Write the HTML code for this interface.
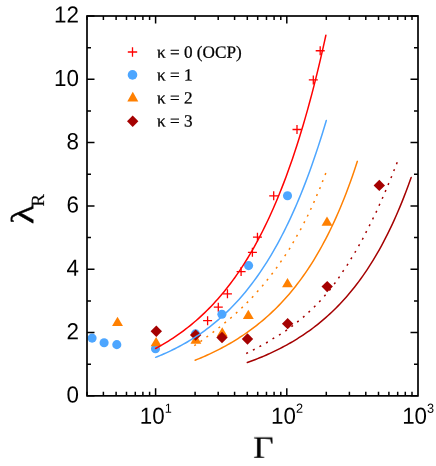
<!DOCTYPE html><html><head><meta charset="utf-8"><title>chart</title><style>html,body{margin:0;padding:0;background:#fff}svg{display:block}text{fill:#000;text-rendering:geometricPrecision}.s{font-family:"Liberation Sans",sans-serif}.r{font-family:"Liberation Serif",serif}</style></head><body>
<svg width="436" height="466" viewBox="0 0 436 466">
<rect width="436" height="466" fill="#fff"/>
<g opacity="0.999">
<g>
<path d="M203.10,320.70H212.10M207.60,316.20V325.20" stroke="#ff0000" stroke-width="1.3" fill="none"/>
<path d="M213.80,307.20H222.80M218.30,302.70V311.70" stroke="#ff0000" stroke-width="1.3" fill="none"/>
<path d="M222.95,293.80H231.95M227.45,289.30V298.30" stroke="#ff0000" stroke-width="1.3" fill="none"/>
<path d="M236.60,271.60H245.60M241.10,267.10V276.10" stroke="#ff0000" stroke-width="1.3" fill="none"/>
<path d="M247.90,252.30H256.90M252.40,247.80V256.80" stroke="#ff0000" stroke-width="1.3" fill="none"/>
<path d="M252.95,237.20H261.95M257.45,232.70V241.70" stroke="#ff0000" stroke-width="1.3" fill="none"/>
<path d="M269.20,195.80H278.20M273.70,191.30V200.30" stroke="#ff0000" stroke-width="1.3" fill="none"/>
<path d="M292.50,129.50H301.50M297.00,125.00V134.00" stroke="#ff0000" stroke-width="1.3" fill="none"/>
<path d="M308.80,79.90H317.80M313.30,75.40V84.40" stroke="#ff0000" stroke-width="1.3" fill="none"/>
<path d="M315.70,50.75H324.70M320.20,46.25V55.25" stroke="#ff0000" stroke-width="1.3" fill="none"/>
<circle cx="92.10" cy="338.10" r="4.55" fill="#4da6ff"/>
<circle cx="104.10" cy="342.70" r="4.55" fill="#4da6ff"/>
<circle cx="116.80" cy="344.65" r="4.55" fill="#4da6ff"/>
<circle cx="155.50" cy="348.70" r="4.55" fill="#4da6ff"/>
<circle cx="195.50" cy="333.85" r="4.55" fill="#4da6ff"/>
<circle cx="221.90" cy="314.20" r="4.55" fill="#4da6ff"/>
<circle cx="248.60" cy="265.60" r="4.55" fill="#4da6ff"/>
<circle cx="287.50" cy="195.70" r="4.55" fill="#4da6ff"/>
<path d="M112.05,326.05L122.95,326.05L117.50,316.75Z" fill="#ff8000"/>
<path d="M150.65,346.35L161.55,346.35L156.10,337.05Z" fill="#ff8000"/>
<path d="M190.45,343.65L201.35,343.65L195.90,334.35Z" fill="#ff8000"/>
<path d="M216.80,336.55L227.70,336.55L222.25,327.25Z" fill="#ff8000"/>
<path d="M242.85,318.95L253.75,318.95L248.30,309.65Z" fill="#ff8000"/>
<path d="M282.05,287.35L292.95,287.35L287.50,278.05Z" fill="#ff8000"/>
<path d="M321.55,225.85L332.45,225.85L327.00,216.55Z" fill="#ff8000"/>
<path d="M150.60,331.20L156.30,325.50L162.00,331.20L156.30,336.90Z" fill="#a50000"/>
<path d="M189.95,335.10L195.65,329.40L201.35,335.10L195.65,340.80Z" fill="#a50000"/>
<path d="M216.30,337.50L222.00,331.80L227.70,337.50L222.00,343.20Z" fill="#a50000"/>
<path d="M241.80,339.00L247.50,333.30L253.20,339.00L247.50,344.70Z" fill="#a50000"/>
<path d="M281.95,323.65L287.65,317.95L293.35,323.65L287.65,329.35Z" fill="#a50000"/>
<path d="M321.50,286.60L327.20,280.90L332.90,286.60L327.20,292.30Z" fill="#a50000"/>
<path d="M373.60,185.40L379.30,179.70L385.00,185.40L379.30,191.10Z" fill="#a50000"/>
</g>
<g fill="none" stroke-width="1.5" stroke-linejoin="round" stroke-linecap="round">
<path d="M155.60,348.49 L157.74,347.33 L159.88,346.13 L162.02,344.91 L164.16,343.65 L166.30,342.37 L168.44,341.05 L170.57,339.69 L172.71,338.30 L174.85,336.88 L176.99,335.42 L179.13,333.92 L181.27,332.39 L183.41,330.81 L185.55,329.19 L187.69,327.53 L189.83,325.83 L191.96,324.09 L194.10,322.29 L196.24,320.46 L198.38,318.57 L200.52,316.64 L202.66,314.65 L204.80,312.61 L206.94,310.52 L209.08,308.37 L211.22,306.17 L213.36,303.91 L215.49,301.58 L217.63,299.20 L219.77,296.75 L221.91,294.24 L224.05,291.66 L226.19,289.01 L228.33,286.29 L230.47,283.50 L232.61,280.63 L234.75,277.69 L236.88,274.66 L239.02,271.56 L241.16,268.37 L243.30,265.09 L245.44,261.72 L247.58,258.26 L249.72,254.71 L251.86,251.06 L254.00,247.30 L256.14,243.45 L258.27,239.49 L260.41,235.41 L262.55,231.23 L264.69,226.93 L266.83,222.51 L268.97,217.96 L271.11,213.29 L273.25,208.49 L275.39,203.55 L277.53,198.47 L279.66,193.25 L281.80,187.88 L283.94,182.36 L286.08,176.68 L288.22,170.84 L290.36,164.83 L292.50,158.65 L294.64,152.29 L296.78,145.75 L298.92,139.02 L301.06,132.09 L303.19,124.97 L305.33,117.63 L307.47,110.09 L309.61,102.32 L311.75,94.32 L313.89,86.09 L316.03,77.62 L318.17,68.89 L320.31,59.91 L322.45,50.66 L324.58,41.13 L325.87,35.28" stroke="#ff0000"/>
<path d="M155.60,357.34 L157.74,356.48 L159.88,355.60 L162.02,354.70 L164.16,353.77 L166.30,352.81 L168.44,351.83 L170.57,350.83 L172.71,349.80 L174.85,348.74 L176.99,347.65 L179.13,346.53 L181.27,345.39 L183.41,344.21 L185.55,343.00 L187.69,341.76 L189.83,340.48 L191.96,339.17 L194.10,337.83 L196.24,336.44 L198.38,335.02 L200.52,333.57 L202.66,332.07 L204.80,330.53 L206.94,328.95 L209.08,327.33 L211.22,325.67 L213.36,323.96 L215.49,322.20 L217.63,320.39 L219.77,318.54 L221.91,316.63 L224.05,314.67 L226.19,312.66 L228.33,310.60 L230.47,308.47 L232.61,306.29 L234.75,304.05 L236.88,301.75 L239.02,299.39 L241.16,296.96 L243.30,294.46 L245.44,291.90 L247.58,289.26 L249.72,286.56 L251.86,283.77 L254.00,280.91 L256.14,277.98 L258.27,274.96 L260.41,271.86 L262.55,268.67 L264.69,265.40 L266.83,262.04 L268.97,258.58 L271.11,255.03 L273.25,251.38 L275.39,247.63 L277.53,243.77 L279.66,239.81 L281.80,235.74 L283.94,231.56 L286.08,227.27 L288.22,222.85 L290.36,218.31 L292.50,213.65 L294.64,208.86 L296.78,203.94 L298.92,198.88 L301.06,193.69 L303.19,188.35 L305.33,182.86 L307.47,177.23 L309.61,171.43 L311.75,165.48 L313.89,159.37 L316.03,153.08 L318.17,146.63 L320.31,139.99 L322.45,133.18 L324.58,126.18 L326.30,120.44" stroke="#4da6ff"/>
<path d="M195.10,360.25 L197.14,359.42 L199.18,358.58 L201.23,357.72 L203.27,356.84 L205.31,355.94 L207.36,355.02 L209.40,354.09 L211.45,353.13 L213.49,352.15 L215.53,351.15 L217.58,350.12 L219.62,349.08 L221.66,348.01 L223.71,346.91 L225.75,345.79 L227.80,344.65 L229.84,343.48 L231.88,342.28 L233.93,341.06 L235.97,339.81 L238.01,338.53 L240.06,337.22 L242.10,335.88 L244.14,334.50 L246.19,333.10 L248.23,331.66 L250.28,330.19 L252.32,328.68 L254.36,327.14 L256.41,325.56 L258.45,323.94 L260.49,322.28 L262.54,320.58 L264.58,318.84 L266.63,317.05 L268.67,315.22 L270.71,313.35 L272.76,311.42 L274.80,309.45 L276.84,307.43 L278.89,305.36 L280.93,303.23 L282.97,301.05 L285.02,298.81 L287.06,296.51 L289.11,294.15 L291.15,291.72 L293.19,289.24 L295.24,286.68 L297.28,284.06 L299.32,281.37 L301.37,278.60 L303.41,275.75 L305.46,272.83 L307.50,269.82 L309.54,266.73 L311.59,263.55 L313.63,260.29 L315.67,256.92 L317.72,253.47 L319.76,249.91 L321.80,246.25 L323.85,242.48 L325.89,238.60 L327.94,234.60 L329.98,230.48 L332.02,226.24 L334.07,221.88 L336.11,217.38 L338.15,212.74 L340.20,207.96 L342.24,203.03 L344.29,197.94 L346.33,192.70 L348.37,187.29 L350.42,181.71 L352.46,175.95 L354.50,170.00 L356.55,163.86 L357.36,161.35" stroke="#ff8000"/>
<path d="M247.31,362.55 L249.37,361.80 L251.43,361.04 L253.50,360.26 L255.56,359.46 L257.62,358.65 L259.69,357.82 L261.75,356.97 L263.82,356.09 L265.88,355.20 L267.94,354.29 L270.01,353.36 L272.07,352.41 L274.14,351.43 L276.20,350.43 L278.26,349.41 L280.33,348.36 L282.39,347.29 L284.45,346.19 L286.52,345.07 L288.58,343.92 L290.65,342.74 L292.71,341.54 L294.77,340.30 L296.84,339.04 L298.90,337.74 L300.96,336.42 L303.03,335.06 L305.09,333.66 L307.16,332.23 L309.22,330.77 L311.28,329.27 L313.35,327.73 L315.41,326.16 L317.47,324.54 L319.54,322.88 L321.60,321.18 L323.67,319.44 L325.73,317.65 L327.79,315.81 L329.86,313.93 L331.92,311.99 L333.99,310.01 L336.05,307.97 L338.11,305.88 L340.18,303.73 L342.24,301.53 L344.30,299.27 L346.37,296.94 L348.43,294.55 L350.50,292.10 L352.56,289.58 L354.62,286.99 L356.69,284.32 L358.75,281.59 L360.81,278.77 L362.88,275.88 L364.94,272.90 L367.01,269.84 L369.07,266.69 L371.13,263.45 L373.20,260.12 L375.26,256.69 L377.32,253.16 L379.39,249.53 L381.45,245.79 L383.52,241.94 L385.58,237.97 L387.64,233.89 L389.71,229.68 L391.77,225.35 L393.84,220.88 L395.90,216.28 L397.96,211.53 L400.03,206.64 L402.09,201.60 L404.15,196.39 L406.22,191.03 L408.28,185.50 L410.35,179.79 L411.17,177.45" stroke="#a50000"/>
<path d="M194.24,345.71L195.93,344.65M200.41,341.56L202.08,340.45M206.45,337.15L208.08,336.00M212.57,332.60L214.17,331.40M218.53,328.02L220.10,326.78M224.43,323.18L225.97,321.90M230.22,318.46L231.72,317.14M235.89,313.34L237.35,311.98M241.39,308.25L242.82,306.85M246.73,303.07L248.12,301.63M251.90,297.74L253.25,296.27M257.00,292.12L258.32,290.62M262.08,286.37L263.36,284.84M266.79,280.56L268.04,279.00M271.54,274.50L272.75,272.91M276.06,268.48L277.24,266.86M280.37,262.31L281.51,260.67M284.73,256.07L285.83,254.40M289.00,249.53L290.07,247.84M292.77,243.17L293.80,241.45M296.48,236.64L297.47,234.91M300.26,230.03L301.22,228.27M303.85,223.17L304.77,221.40M307.28,216.53L308.16,214.74M310.48,209.78L311.32,207.97M313.61,202.85L314.42,201.02M316.57,195.98L317.34,194.14M319.61,189.04L320.34,187.18M322.33,182.06L323.03,180.19M325.13,174.96L325.79,173.08" stroke="#ff8000" stroke-width="1.5" stroke-linecap="butt"/>
<path d="M246.21,353.48L248.03,352.66M252.87,350.12L254.67,349.25M259.41,346.66L261.18,345.74M266.05,342.99L267.79,342.01M272.52,338.97L274.23,337.94M278.99,335.14L280.66,334.05M285.33,331.10L286.96,329.95M291.44,326.70L293.04,325.49M297.15,322.13L298.70,320.86M302.97,317.41L304.47,316.08M308.52,312.38L309.97,311.00M313.98,307.21L315.38,305.78M319.20,301.99L320.55,300.51M324.28,296.18L325.58,294.67M329.32,290.41L330.58,288.85M334.18,284.13L335.39,282.54M338.40,278.24L339.57,276.62M342.59,271.87L343.71,270.21M346.90,265.64L347.99,263.96M350.83,259.21L351.88,257.50M354.80,252.73L355.81,251.01M358.59,246.12L359.57,244.38M362.28,239.62L363.22,237.86M365.70,232.94L366.62,231.16M369.17,226.13L370.06,224.34M372.59,219.34L373.45,217.54M375.91,212.63L376.75,210.82M379.03,205.75L379.85,203.93M382.17,198.78L382.98,196.95M385.13,191.90L385.91,190.06M388.05,184.97L388.82,183.13M390.95,178.04L391.71,176.18M393.73,171.09L394.48,169.24M396.48,164.19L397.22,162.33" stroke="#a50000" stroke-width="1.5" stroke-linecap="butt"/>
</g>
<g stroke="#000" stroke-width="1.7" fill="none">
<rect x="87" y="16" width="331" height="379.85"/>
<path d="M87,395.85h7.5M418,395.85h-7.5M87,364.20h4.0M418,364.20h-4.0M87,332.54h7.5M418,332.54h-7.5M87,300.89h4.0M418,300.89h-4.0M87,269.23h7.5M418,269.23h-7.5M87,237.58h4.0M418,237.58h-4.0M87,205.93h7.5M418,205.93h-7.5M87,174.27h4.0M418,174.27h-4.0M87,142.62h7.5M418,142.62h-7.5M87,110.96h4.0M418,110.96h-4.0M87,79.31h7.5M418,79.31h-7.5M87,47.65h4.0M418,47.65h-4.0M87,16.00h7.5M418,16.00h-7.5M87.00,395.85v-4.0M87.00,16v4.0M103.39,395.85v-4.0M103.39,16v4.0M116.11,395.85v-4.0M116.11,16v4.0M126.49,395.85v-4.0M126.49,16v4.0M135.28,395.85v-4.0M135.28,16v4.0M142.89,395.85v-4.0M142.89,16v4.0M149.60,395.85v-4.0M149.60,16v4.0M155.60,395.85v-7.5M155.60,16v7.5M195.10,395.85v-4.0M195.10,16v4.0M218.20,395.85v-4.0M218.20,16v4.0M234.59,395.85v-4.0M234.59,16v4.0M247.31,395.85v-4.0M247.31,16v4.0M257.69,395.85v-4.0M257.69,16v4.0M266.48,395.85v-4.0M266.48,16v4.0M274.09,395.85v-4.0M274.09,16v4.0M280.80,395.85v-4.0M280.80,16v4.0M286.80,395.85v-7.5M286.80,16v7.5M326.30,395.85v-4.0M326.30,16v4.0M349.40,395.85v-4.0M349.40,16v4.0M365.79,395.85v-4.0M365.79,16v4.0M378.51,395.85v-4.0M378.51,16v4.0M388.89,395.85v-4.0M388.89,16v4.0M397.68,395.85v-4.0M397.68,16v4.0M405.29,395.85v-4.0M405.29,16v4.0M412.00,395.85v-4.0M412.00,16v4.0" stroke-width="1.5"/>
</g>
<text class="s" transform="translate(79.0,402.45) rotate(0.03) scale(0.965,1)" font-size="23.2" text-anchor="end">0</text>
<text class="s" transform="translate(79.0,339.14) rotate(0.03) scale(0.965,1)" font-size="23.2" text-anchor="end">2</text>
<text class="s" transform="translate(79.0,275.83) rotate(0.03) scale(0.965,1)" font-size="23.2" text-anchor="end">4</text>
<text class="s" transform="translate(79.0,212.53) rotate(0.03) scale(0.965,1)" font-size="23.2" text-anchor="end">6</text>
<text class="s" transform="translate(79.0,149.22) rotate(0.03) scale(0.965,1)" font-size="23.2" text-anchor="end">8</text>
<text class="s" transform="translate(79.0,85.91) rotate(0.03) scale(0.965,1)" font-size="23.2" text-anchor="end">10</text>
<text class="s" transform="translate(79.0,22.60) rotate(0.03) scale(0.965,1)" font-size="23.2" text-anchor="end">12</text>
<text class="s" transform="translate(139.75,423.8) rotate(0.03) scale(0.965,1)" font-size="23.2">10<tspan font-size="13.2" dx="0.05" dy="-11.1">1</tspan></text>
<text class="s" transform="translate(270.95,423.8) rotate(0.03) scale(0.965,1)" font-size="23.2">10<tspan font-size="13.2" dx="0.05" dy="-11.1">2</tspan></text>
<text class="s" transform="translate(402.15,423.8) rotate(0.03) scale(0.965,1)" font-size="23.2">10<tspan font-size="13.2" dx="0.05" dy="-11.1">3</tspan></text>
<text class="r" transform="translate(253.05,457.8) rotate(0.03) scale(1.14,1)" font-size="31" stroke="#000" stroke-width="0.2">Γ</text>
<text class="r" transform="translate(33.2,224.3) rotate(-89.97) scale(1.28,1)" font-size="32" stroke="#000" stroke-width="0.3">λ</text>
<text class="r" transform="translate(44.0,206.4) rotate(-89.97)" font-size="18.6" stroke="#000" stroke-width="0.2">R</text>
<path d="M127.80,52.00H137.20M132.50,47.30V56.70" stroke="#ff0000" stroke-width="1.3" fill="none"/>
<circle cx="132.50" cy="74.90" r="4.8" fill="#4da6ff"/>
<path d="M127.30,101.45L138.30,101.45L132.80,91.75Z" fill="#ff8000"/>
<path d="M127.00,121.30L132.70,115.60L138.40,121.30L132.70,127.00Z" fill="#a50000"/>
<text class="r" transform="translate(157,57.70) rotate(0.03)" font-size="17.2" stroke="#000" stroke-width="0.25">κ = 0 (OCP)</text>
<text class="r" transform="translate(157,80.60) rotate(0.03)" font-size="17.2" stroke="#000" stroke-width="0.25">κ = 1</text>
<text class="r" transform="translate(157,103.50) rotate(0.03)" font-size="17.2" stroke="#000" stroke-width="0.25">κ = 2</text>
<text class="r" transform="translate(157,126.40) rotate(0.03)" font-size="17.2" stroke="#000" stroke-width="0.25">κ = 3</text>
</g>
</svg></body></html>
